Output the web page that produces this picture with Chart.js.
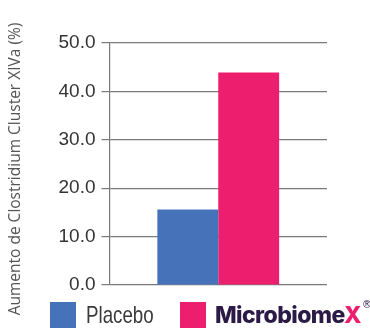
<!DOCTYPE html>
<html>
<head>
<meta charset="utf-8">
<script src="https://cdn.jsdelivr.net/npm/chart.js@4/dist/chart.umd.min.js"></script>
<style>
  html, body { margin: 0; padding: 0; background: #fff; }
  #wrap { position: relative; width: 370px; height: 329px; overflow: hidden; }
  #chart { position: absolute; left: 0; top: 0; }
  .sw { position: absolute; width: 26px; height: 26px; }
  .lbl { position: absolute; white-space: nowrap; }
  #lblPlacebo { left: 86px; top: 300px; font: 24px "Liberation Sans", sans-serif; color: #3a3a3a; line-height: 30px; transform: scaleX(0.78); transform-origin: left center; }
  #lblBrand { left: 215px; top: 300px; font: 800 23px "Inter", "Lato", sans-serif; color: #2b1a45; line-height: 30px; letter-spacing: -0.6px; }
  #lblBrand .x { color: #ed1e6e; }
  #lblBrand sup { font: 400 10px "DejaVu Sans", sans-serif; color: #2b1a45; position: relative; top: -6px; margin-left: 1px; }
</style>
</head>
<body>
<div id="wrap">
  <canvas id="chart" width="370" height="329"></canvas>
  <div class="sw" style="left:50px; top:302px; background:#4672b9;"></div>
  <div class="lbl" id="lblPlacebo">Placebo</div>
  <div class="sw" style="left:180px; top:302px; background:#ed1e6e;"></div>
  <div class="lbl" id="lblBrand">Microbiome<span class="x">X</span><sup>®</sup></div>
</div>
<script>
// Increase in Clostridium cluster XIVa, per group
const categories = ["Clostridium Cluster XIVa"];
const seriesNames = ["Placebo", "MicrobiomeX"];
const placeboValues = [15.6];
const microbiomeXValues = [43.9];
const yTicks = [0, 10, 20, 30, 40, 50];
const yTitle = "Aumento de Clostridium Cluster XIVa (%)";

const gridColor = "#7a7a7a";

// Vertical axis title, drawn rotated along the left edge
const yTitlePlugin = {
  id: "yTitle",
  afterDraw(chart) {
    const ctx = chart.ctx;
    ctx.save();
    ctx.translate(16, 169);
    ctx.rotate(-Math.PI / 2);
    ctx.font = "15.5px 'Open Sans', sans-serif";
    ctx.fillStyle = "#555";
    ctx.textAlign = "center";
    ctx.textBaseline = "middle";
    ctx.fillText(yTitle, 0, 0);
    ctx.restore();
  }
};

new Chart(document.getElementById("chart"), {
  type: "bar",
  data: {
    labels: categories,
    datasets: [
      { label: seriesNames[0], data: placeboValues, backgroundColor: "#4672b9" },
      { label: seriesNames[1], data: microbiomeXValues, backgroundColor: "#ed1e6e" }
    ]
  },
  plugins: [yTitlePlugin],
  options: {
    responsive: false,
    animation: false,
    layout: { padding: { top: 43, bottom: 44, right: 43, left: 0 } },
    plugins: { legend: { display: false }, tooltip: { enabled: false } },
    datasets: { bar: { categoryPercentage: 0.56, barPercentage: 1.0 } },
    scales: {
      x: { display: false },
      y: {
        min: yTicks[0],
        max: yTicks[yTicks.length - 1],
        afterBuildTicks: (s) => { s.ticks = yTicks.map(v => ({ value: v })); },
        afterFit: (s) => { s.width = 109.5; },
        grid: { color: gridColor, lineWidth: 1.2, tickLength: 8, drawTicks: true },
        border: { display: true, color: gridColor, width: 1.2 },
        ticks: {
          padding: 6,
          color: "#333",
          font: { family: "'Liberation Sans', sans-serif", size: 19 },
          callback: (v) => Number(v).toFixed(1)
        },
        title: { display: false }
      }
    }
  }
});
</script>
</body>
</html>
